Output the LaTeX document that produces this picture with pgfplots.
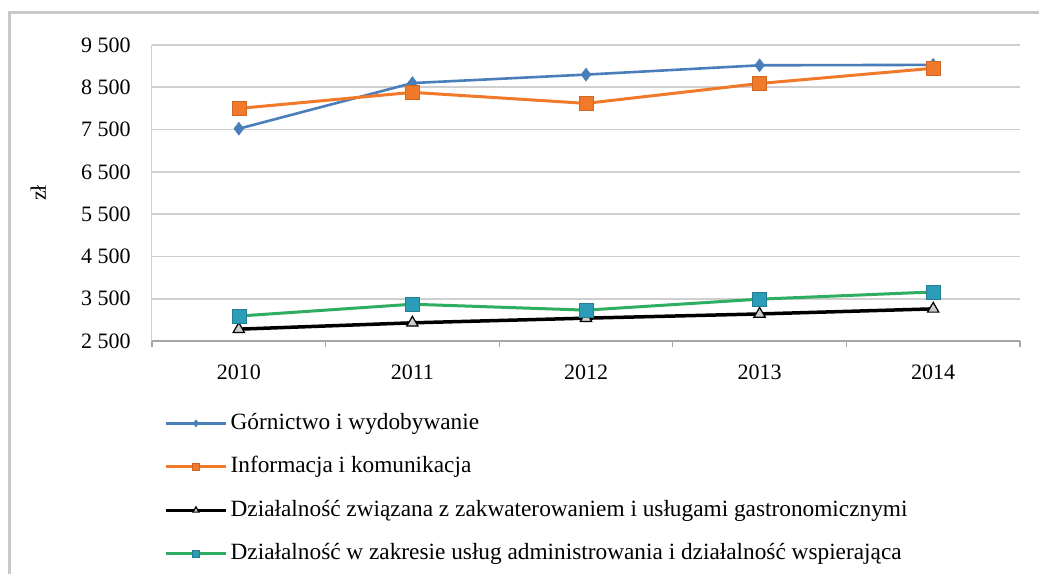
\documentclass[border=0pt]{standalone}
\usepackage{fontspec}
\setmainfont{Liberation Serif}
\usepackage{pgfplots}
\pgfplotsset{compat=1.18}
\definecolor{gornBlue}{HTML}{4A7EBB}
\definecolor{infoOrange}{HTML}{F07A2A}
\definecolor{adminGreen}{HTML}{2FAE62}
\definecolor{adminTeal}{HTML}{2C9DB8}
\definecolor{gridGray}{HTML}{CFCFCF}
\definecolor{frameGray}{HTML}{C8C8C8}

\begin{document}
\begin{tikzpicture}
  \path[use as bounding box] (0,0) rectangle (1039pt,574pt);
  \fill[white] (0,0) rectangle (1039pt,574pt);
  % outer chart frame (left and top edges visible)
  \draw[frameGray, line width=3pt] (9pt,0pt) -- (9pt,561pt) -- (1039pt,561pt);
  \begin{axis}[
    at={(152pt,233pt)}, anchor=south west,
    scale only axis,
    width=868pt, height=296pt,
    xmin=-0.5, xmax=4.5,
    ymin=2500, ymax=9500,
    xtick={0,1,2,3,4},
    xticklabels={2010,2011,2012,2013,2014},
    minor xtick={-0.5,0.5,1.5,2.5,3.5,4.5},
    ytick={2500,3500,4500,5500,6500,7500,8500,9500},
    yticklabels={2 500,3 500,4 500,5 500,6 500,7 500,8 500,9 500},
    major x tick style={draw=none},
    minor x tick style={draw=gray!70, line width=1.2pt},
    minor tick length=6pt,
    ytick style={draw=none},
    tick align=outside,
    axis x line*=bottom,
    axis y line*=left,
    x axis line style={draw=gray!70, line width=1.5pt, -},
    y axis line style={draw=gridGray, line width=1pt, -},
    ymajorgrids,
    grid style={draw=gridGray, line width=1.8pt},
    ticklabel style={font=\fontsize{22}{26}\selectfont, inner sep=0pt},
    xticklabel style={anchor=north, yshift=-19pt},
    yticklabel style={anchor=east, xshift=-17pt},
    ylabel={zł},
    ylabel style={at={(axis description cs:-0.131,0.5)}, anchor=center, font=\fontsize{22}{26}\selectfont},
    legend cell align=left,
    legend style={
      at={(axis description cs:0.0138,-0.237)}, anchor=north west,
      draw=none, fill=none, inner sep=0pt,
      row sep=19.5pt, column sep=2pt,
      font=\fontsize{23.3}{27}\selectfont,
      nodes={inner sep=1pt, text height=17pt, text depth=5pt},
    },
    legend image code/.code={
      \draw[mark repeat=2, mark phase=2, #1, mark size=3.5pt]
        plot coordinates {(0pt,0pt) (30pt,0pt) (60pt,0pt)};
    },
  ]
    \addplot[gornBlue, line width=2.6pt, mark=diamond*, mark size=6.5pt,
      mark options={fill=gornBlue, draw=gornBlue, line width=0.5pt}]
      coordinates {(0,7520) (1,8600) (2,8800) (3,9020) (4,9030)};
    \addlegendentry{Górnictwo i wydobywanie}
    \addplot[infoOrange, line width=3pt, mark=square*, mark size=7pt,
      mark options={fill=infoOrange, draw=infoOrange!85!black, line width=0.5pt}]
      coordinates {(0,8000) (1,8380) (2,8120) (3,8590) (4,8950)};
    \addlegendentry{Informacja i komunikacja}
    \addplot[black, line width=3.5pt, mark=triangle*, mark size=6.5pt,
      mark options={fill=gray!40, draw=black, line width=1.2pt}]
      coordinates {(0,2780) (1,2930) (2,3040) (3,3140) (4,3260)};
    \addlegendentry{Działalność związana z zakwaterowaniem i usługami gastronomicznymi}
    \addplot[adminGreen, line width=3pt, mark=square*, mark size=7pt,
      mark options={fill=adminTeal, draw=adminTeal!80!black, line width=0.5pt}]
      coordinates {(0,3090) (1,3370) (2,3230) (3,3490) (4,3660)};
    \addlegendentry{Działalność w zakresie usług administrowania i działalność wspierająca}
  \end{axis}
\end{tikzpicture}
\end{document}
